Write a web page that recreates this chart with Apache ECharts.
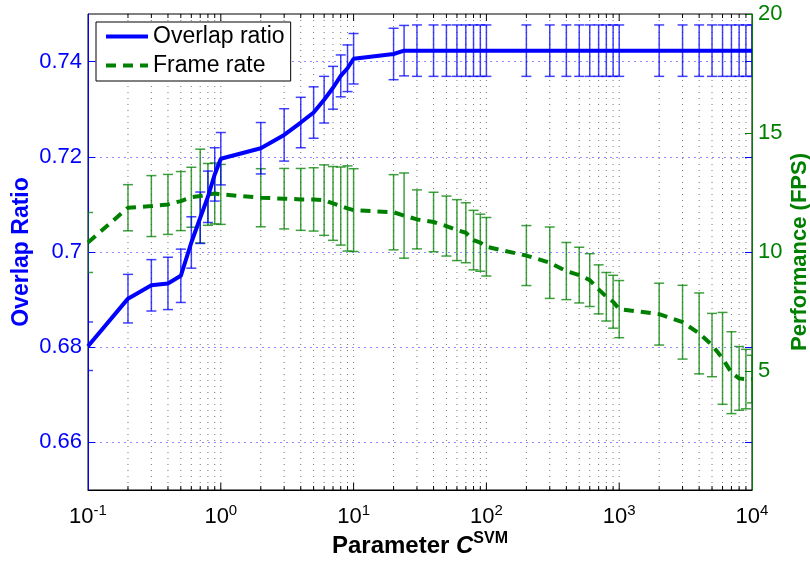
<!DOCTYPE html>
<html><head><meta charset="utf-8">
<script src="https://cdn.jsdelivr.net/npm/echarts@6/dist/echarts.min.js"></script>
<style>html,body{margin:0;padding:0;background:#fff}#c{width:810px;height:561px}</style>
</head><body><div id="c"></div>
<script>
// ---- data ----
const cValues = [0.1,0.2,0.3,0.4,0.5,0.6,0.7,0.8,0.9,
  1,2,3,4,5,6,7,8,9,
  10,20,24,30,40,50,60,70,80,90,
  100,200,300,400,500,600,700,800,900,
  1000,2000,3000,4000,5000,6000,7000,8000,9000,10000];
const overlapMean = [0.6802,0.6902,0.6930,0.6934,0.6950,0.7020,0.7072,0.7116,0.7163,
  0.7196,0.7218,0.7246,0.7272,0.7293,0.7320,0.7345,0.7370,0.7386,
  0.7406,0.7416,0.7423,0.7423,0.7423,0.7423,0.7423,0.7423,0.7423,0.7423,
  0.7423,0.7423,0.7423,0.7423,0.7423,0.7423,0.7423,0.7423,0.7423,
  0.7423,0.7423,0.7423,0.7423,0.7423,0.7423,0.7423,0.7423,0.7423,0.7423];
const overlapErr = [0.0051,0.0051,0.0054,0.0055,0.0056,0.0054,0.0054,0.0054,0.0056,
  0.0055,0.0054,0.0055,0.0053,0.0054,0.0049,0.0045,0.0044,0.0049,
  0.0053,0.0054,0.0053,0.0054,0.0054,0.0054,0.0054,0.0054,0.0054,0.0054,
  0.0054,0.0054,0.0054,0.0054,0.0054,0.0054,0.0054,0.0054,0.0054,
  0.0054,0.0054,0.0054,0.0054,0.0054,0.0054,0.0054,0.0054,0.0054,0.0054];
const fpsMean = [10.40,11.86,11.93,12.00,12.14,12.30,12.35,12.42,12.46,
  12.42,12.28,12.24,12.21,12.21,12.18,12.04,11.93,11.83,
  11.76,11.67,11.53,11.37,11.26,11.09,10.92,10.81,10.50,10.39,
  10.22,9.85,9.55,9.20,9.03,8.82,8.43,8.12,7.91,
  7.60,7.39,7.05,6.58,6.09,5.53,4.93,4.69,4.66,4.66];
const fpsErr = [1.26,0.97,1.28,1.26,1.24,1.26,1.97,1.30,1.28,
  1.26,1.22,1.27,1.30,1.33,1.48,1.55,1.64,1.79,
  1.74,1.58,1.79,1.24,1.25,1.26,1.28,1.26,1.25,1.20,
  1.23,1.26,1.50,1.20,1.17,1.11,1.03,1.02,1.11,
  1.20,1.30,1.55,1.70,1.33,1.93,1.72,1.34,1.25,1.00];
const leftTicks = [0.66,0.68,0.70,0.72,0.74];
const rightTicks = [5,10,15,20];
const xDecades = [0.1,1,10,100,1000,10000];
const minorMult = [2,3,4,5,6,7,8,9];

// ---- styling ----
const FONT = "'Liberation Sans', Arial, Helvetica, sans-serif";
const BLUE = '#0000ff', GREEN = '#008000';

const gridTicks = [];
xDecades.forEach((d, i) => {
  if (i > 0 && i < xDecades.length - 1) gridTicks.push([d, 1]);
  if (i < xDecades.length - 1) minorMult.forEach(m => gridTicks.push([+(d * m).toPrecision(6), 0]));
});

function errRender(color, width) {
  return function (params, api) {
    const x = api.value(0);
    const top = api.coord([x, api.value(2)]);
    const bot = api.coord([x, api.value(1)]);
    const w = 5;
    const st = { stroke: color, lineWidth: width };
    return { type: 'group', children: [
      { type: 'line', shape: { x1: top[0], y1: top[1], x2: bot[0], y2: bot[1] }, style: st },
      { type: 'line', shape: { x1: top[0] - w, y1: top[1], x2: top[0] + w, y2: top[1] }, style: st },
      { type: 'line', shape: { x1: bot[0] - w, y1: bot[1], x2: bot[0] + w, y2: bot[1] }, style: st }
    ]};
  };
}

function gridRender(params, api) {
  const cs = params.coordSys;
  const x = api.coord([api.value(0), 0.7])[0];
  const major = api.value(1) === 1;
  const tl = major ? 7 : 4;
  return { type: 'group', children: [
    { type: 'line', shape: { x1: x, y1: cs.y, x2: x, y2: cs.y + cs.height },
      style: { stroke: 'rgba(0,0,0,0.55)', lineWidth: 1, lineDash: [1, 5] } },
    { type: 'line', shape: { x1: x, y1: cs.y, x2: x, y2: cs.y + tl }, style: { stroke: '#000', lineWidth: 1 } },
    { type: 'line', shape: { x1: x, y1: cs.y + cs.height, x2: x, y2: cs.y + cs.height - tl }, style: { stroke: '#000', lineWidth: 1 } }
  ]};
}

const chart = echarts.init(document.getElementById('c'), null, { renderer: 'canvas' });
chart.setOption({
  animation: false,
  backgroundColor: '#fff',
  textStyle: { fontFamily: FONT },
  grid: { left: 88, right: 58, top: 14, bottom: 71, show: true, borderColor: '#000', borderWidth: 1,
    backgroundColor: '#fff', outerBoundsMode: 'none', containLabel: false },
  legend: {
    data: [
      { name: 'Overlap ratio', itemStyle: { opacity: 0 }, lineStyle: { width: 4, color: BLUE } },
      { name: 'Frame rate', itemStyle: { opacity: 0 }, lineStyle: { width: 4, color: GREEN, type: [10, 7] } }
    ],
    orient: 'vertical', left: 96, top: 22,
    backgroundColor: '#fff', borderColor: '#000', borderWidth: 1, borderRadius: 0,
    padding: [3, 6, 4, 8], itemWidth: 42, itemHeight: 14, itemGap: 6, selectedMode: false,
    textStyle: { fontSize: 23, color: '#000', fontFamily: FONT }
  },
  xAxis: {
    type: 'log', logBase: 10, min: 0.1, max: 10000,
    axisLine: { show: true, lineStyle: { color: '#000', width: 1 } },
    axisTick: { show: false }, splitLine: { show: false },
    axisLabel: {
      margin: 13, color: '#000', fontFamily: FONT,
      formatter: v => { const e = Math.round(Math.log10(v)); return '{b|10}{s|' + (e < 0 ? '-' : '') + Math.abs(e) + '}'; },
      rich: { b: { fontSize: 22, lineHeight: 28, fontFamily: FONT, color: '#000' },
              s: { fontSize: 15, lineHeight: 15, verticalAlign: 'top', fontFamily: FONT, color: '#000' } }
    },
    name: 'Parameter {i|C}{s|SVM}', nameLocation: 'middle', nameGap: 41, nameMoveOverlap: false,
    nameTextStyle: { fontSize: 24, fontWeight: 'bold', color: '#000', fontFamily: FONT,
      rich: { i: { fontSize: 24, fontWeight: 'bold', fontStyle: 'italic', color: '#000', fontFamily: FONT, lineHeight: 30 },
              s: { fontSize: 16, fontWeight: 'bold', color: '#000', fontFamily: FONT, verticalAlign: 'top', lineHeight: 16 } } }
  },
  yAxis: [
    {
      type: 'value', min: 0.65, max: 0.75, position: 'left',
      axisLine: { show: true, lineStyle: { color: BLUE, width: 1 } },
      axisTick: { show: true, inside: true, length: 7, customValues: leftTicks, lineStyle: { color: BLUE } },
      axisLabel: { customValues: leftTicks, margin: 6, color: BLUE, fontSize: 22, fontFamily: FONT,
        formatter: v => String(+(+v).toFixed(2)) },
      splitLine: { show: true, lineStyle: { color: '#8c8cff', width: 1, type: [2, 4] } },
      name: 'Overlap Ratio', nameLocation: 'middle', nameGap: 55, nameMoveOverlap: false,
      nameTextStyle: { fontSize: 23, fontWeight: 'bold', color: BLUE, fontFamily: FONT }
    },
    {
      type: 'value', min: 0, max: 20, interval: 5, position: 'right',
      axisLine: { show: true, lineStyle: { color: GREEN, width: 1 } },
      axisTick: { show: true, inside: true, length: 7, lineStyle: { color: GREEN } },
      axisLabel: { margin: 6, color: GREEN, fontSize: 22, fontFamily: FONT, showMinLabel: false },
      splitLine: { show: false },
      name: 'Performance (FPS)', nameLocation: 'middle', nameGap: 37, nameMoveOverlap: false,
      nameTextStyle: { fontSize: 22, fontWeight: 'bold', color: GREEN, fontFamily: FONT }
    },
    {
      type: 'value', min: 0.65, max: 0.75, position: 'right',
      axisLine: { show: false },
      axisTick: { show: true, inside: true, length: 7, customValues: leftTicks, lineStyle: { color: BLUE } },
      axisLabel: { show: false }, splitLine: { show: false }
    }
  ],
  series: [
    { type: 'custom', name: 'grid', data: gridTicks, xAxisIndex: 0, yAxisIndex: 0,
      encode: { x: 0 }, renderItem: gridRender, silent: true, z: 1 },
    { type: 'custom', name: 'fpsErr', yAxisIndex: 1, clip: true, silent: true, z: 2,
      data: cValues.map((x, i) => [x, fpsMean[i] - fpsErr[i], fpsMean[i] + fpsErr[i]]),
      encode: { x: 0, y: [1, 2] }, renderItem: errRender('rgba(0,128,0,0.75)', 1.5) },
    { type: 'custom', name: 'ovErr', yAxisIndex: 0, clip: true, silent: true, z: 3,
      data: cValues.map((x, i) => [x, overlapMean[i] - overlapErr[i], overlapMean[i] + overlapErr[i]]),
      encode: { x: 0, y: [1, 2] }, renderItem: errRender('rgba(0,0,255,0.75)', 1.5) },
    { name: 'Frame rate', type: 'line', yAxisIndex: 1, z: 4, symbol: 'none', showSymbol: false,
      data: cValues.map((x, i) => [x, fpsMean[i]]),
      lineStyle: { color: GREEN, width: 4, type: [10, 7] }, itemStyle: { color: GREEN } },
    { name: 'Overlap ratio', type: 'line', yAxisIndex: 0, z: 5, symbol: 'none', showSymbol: false,
      data: cValues.map((x, i) => [x, overlapMean[i]]),
      lineStyle: { color: BLUE, width: 4 }, itemStyle: { color: BLUE } }
  ]
});
</script></body></html>
